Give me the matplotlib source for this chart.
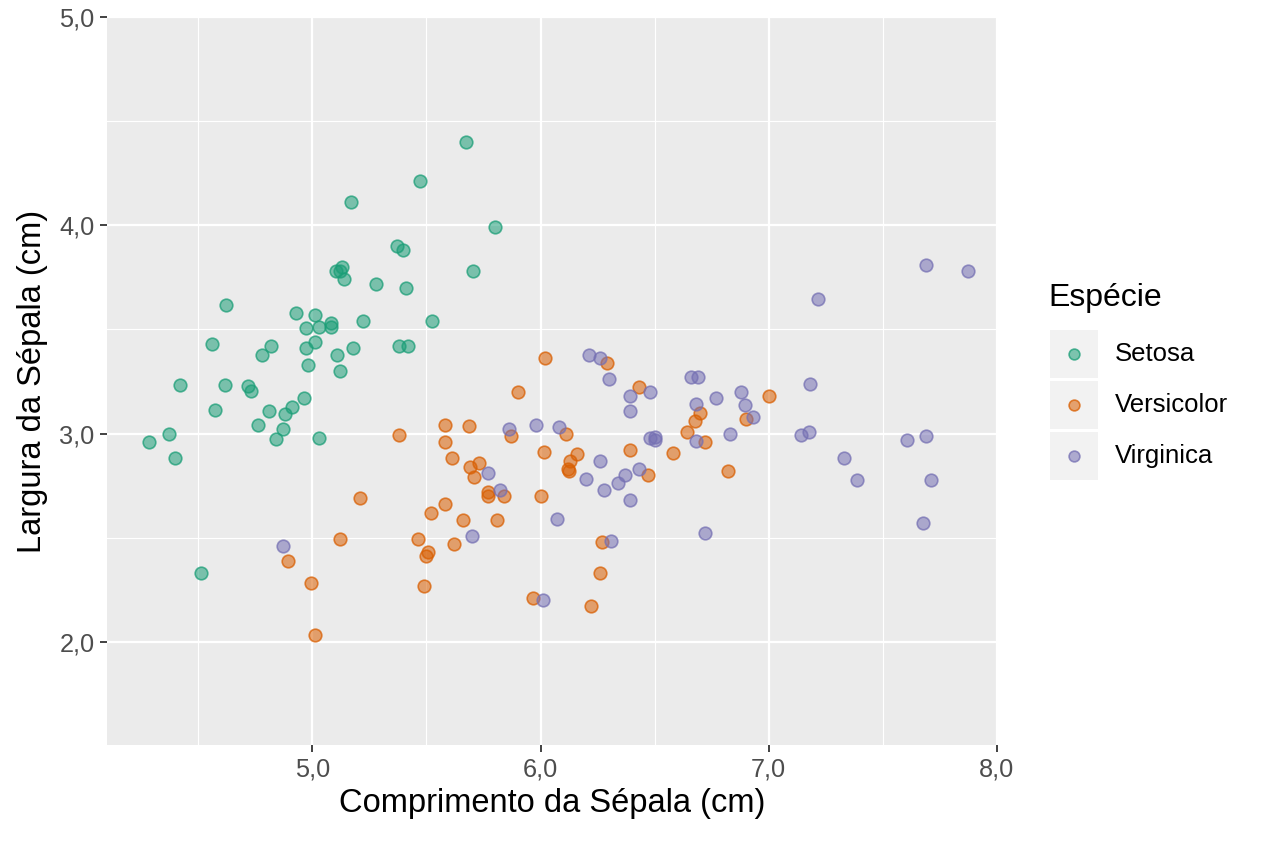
import numpy as np
import matplotlib
matplotlib.use("Agg")
import matplotlib.pyplot as plt
from matplotlib.patches import Rectangle
from matplotlib.ticker import FuncFormatter

plt.rcParams['font.family'] = ['Liberation Sans', 'DejaVu Sans']

# Valores (com jitter)
setosa_x = [4.285, 4.37, 4.40, 4.42, 4.56, 4.575, 4.62, 4.615, 4.51, 4.72,
            4.73, 4.76, 4.78, 4.81, 4.82, 4.84, 4.87, 4.88, 4.91, 4.93,
            4.965, 4.97, 4.97, 4.98, 5.01, 5.01, 5.03, 5.03, 5.08, 5.08,
            5.105, 5.12, 5.13, 5.14, 5.11, 5.12, 5.17, 5.18, 5.22, 5.28,
            5.37, 5.395, 5.38, 5.41, 5.42, 5.47, 5.525, 5.675, 5.705, 5.80]
setosa_y = [2.96, 3.00, 2.885, 3.235, 3.43, 3.115, 3.615, 3.235, 2.33, 3.23,
            3.205, 3.04, 3.375, 3.11, 3.42, 2.975, 3.02, 3.095, 3.13, 3.58,
            3.17, 3.505, 3.41, 3.33, 3.44, 3.57, 3.51, 2.98, 3.53, 3.51,
            3.78, 3.78, 3.80, 3.74, 3.375, 3.30, 4.11, 3.41, 3.54, 3.72,
            3.90, 3.88, 3.42, 3.70, 3.42, 4.215, 3.54, 4.40, 3.78, 3.99]

versicolor_x = [4.895, 4.995, 5.01, 5.12, 5.21, 5.38, 5.465, 5.49, 5.50, 5.505,
                5.52, 5.58, 5.58, 5.58, 5.61, 5.62, 5.66, 5.685, 5.69, 5.71,
                5.73, 5.77, 5.77, 5.81, 5.84, 5.87, 5.90, 5.965, 6.00, 6.02,
                6.015, 6.11, 6.12, 6.13, 6.125, 6.16, 6.22, 6.26, 6.27, 6.29,
                6.39, 6.43, 6.47, 6.58, 6.64, 6.675, 6.70, 6.72, 6.82, 6.90,
                7.00]
versicolor_y = [2.39, 2.285, 2.035, 2.496, 2.69, 2.995, 2.496, 2.27, 2.41, 2.43,
                2.62, 3.04, 2.96, 2.66, 2.885, 2.47, 2.585, 3.035, 2.84, 2.79,
                2.86, 2.70, 2.72, 2.585, 2.70, 2.99, 3.20, 2.21, 2.70, 3.365,
                2.91, 3.00, 2.83, 2.87, 2.82, 2.90, 2.17, 2.33, 2.48, 3.34,
                2.92, 3.225, 2.80, 2.905, 3.01, 3.06, 3.10, 2.96, 2.82, 3.07,
                3.18]

virginica_x = [4.87, 5.70, 5.77, 5.82, 5.86, 5.98, 6.01, 6.07, 6.08, 6.20,
               6.21, 6.26, 6.26, 6.28, 6.30, 6.31, 6.34, 6.37, 6.39, 6.39,
               6.39, 6.43, 6.48, 6.48, 6.50, 6.50, 6.66, 6.69, 6.68, 6.68,
               6.72, 6.77, 6.83, 6.88, 6.895, 6.93, 7.14, 7.175, 7.18, 7.215,
               7.33, 7.385, 7.605, 7.675, 7.69, 7.69, 7.71, 7.875]
virginica_y = [2.46, 2.51, 2.81, 2.73, 3.02, 3.04, 2.20, 2.59, 3.03, 2.78,
               3.375, 3.365, 2.87, 2.73, 3.26, 2.485, 2.765, 2.80, 3.18, 3.11,
               2.68, 2.83, 3.20, 2.98, 2.985, 2.967, 3.27, 3.27, 3.14, 2.965,
               2.525, 3.17, 3.00, 3.20, 3.135, 3.08, 2.995, 3.01, 3.24, 3.645,
               2.885, 2.775, 2.97, 2.57, 2.99, 3.81, 2.775, 3.78]

species = ['Setosa', 'Versicolor', 'Virginica']
colors = ['#1B9E77', '#D95F02', '#7570B3']
xs = [setosa_x, versicolor_x, virginica_x]
ys = [setosa_y, versicolor_y, virginica_y]

W, H = 1264, 843
fig = plt.figure(figsize=(W / 100, H / 100), dpi=100)
ax = fig.add_axes([107 / W, 1 - 745 / H, (997 - 107) / W, (745 - 17) / H])
ax.set_facecolor('#EBEBEB')

for x, y, c in zip(xs, ys, colors):
    ax.scatter(x, y, s=82, facecolor=matplotlib.colors.to_rgba(c, 0.55),
               edgecolor=matplotlib.colors.to_rgba(c, 0.75), linewidth=1.2, zorder=3)

ax.set_xlim(4.1, 8.0)
ax.set_ylim(1.505, 5.0)
ax.set_xticks([5, 6, 7, 8])
ax.set_yticks([2, 3, 4, 5])
ax.set_xticks([4.5, 5.5, 6.5, 7.5], minor=True)
ax.set_yticks([2.5, 3.5, 4.5], minor=True)
fmt = FuncFormatter(lambda v, p: f'{v:.1f}'.replace('.', ','))
ax.xaxis.set_major_formatter(fmt)
ax.yaxis.set_major_formatter(fmt)
ax.grid(which='major', color='white', linewidth=1.6, zorder=0)
ax.grid(which='minor', color='white', linewidth=0.8, zorder=0)
ax.set_axisbelow(True)
for s in ax.spines.values():
    s.set_visible(False)
ax.tick_params(which='major', length=5, width=1.3, color='#333333',
               labelsize=18.3, labelcolor='#4D4D4D', pad=4)
ax.tick_params(which='minor', length=0)
ax.set_xlabel('Comprimento da Sépala (cm)', fontsize=23.5, labelpad=5)
ax.set_ylabel('Largura da Sépala (cm)', fontsize=23.5, labelpad=8)

# Legenda
lax = fig.add_axes([1050 / W, 1 - 480 / H, 48 / W, 150 / H])
lax.set_xlim(0, 1)
lax.set_ylim(0, 150)
lax.axis('off')
tops = [0, 51, 102]
for i, (name, c) in enumerate(zip(species, colors)):
    y0 = 150 - tops[i] - 48
    lax.add_patch(Rectangle((0, y0), 1, 48, facecolor='#F2F2F2', edgecolor='none'))
    lax.scatter([0.5], [y0 + 24], s=60, facecolor=matplotlib.colors.to_rgba(c, 0.55),
                edgecolor=matplotlib.colors.to_rgba(c, 0.75), linewidth=1.2, clip_on=False)
    fig.text(1115 / W, 1 - (330 + tops[i] + 24) / H, name, fontsize=18.5,
             va='center', ha='left')
fig.text(1048 / W, 1 - 298 / H, 'Espécie', fontsize=23, va='center', ha='left')

fig.savefig('out.png', dpi=100)
